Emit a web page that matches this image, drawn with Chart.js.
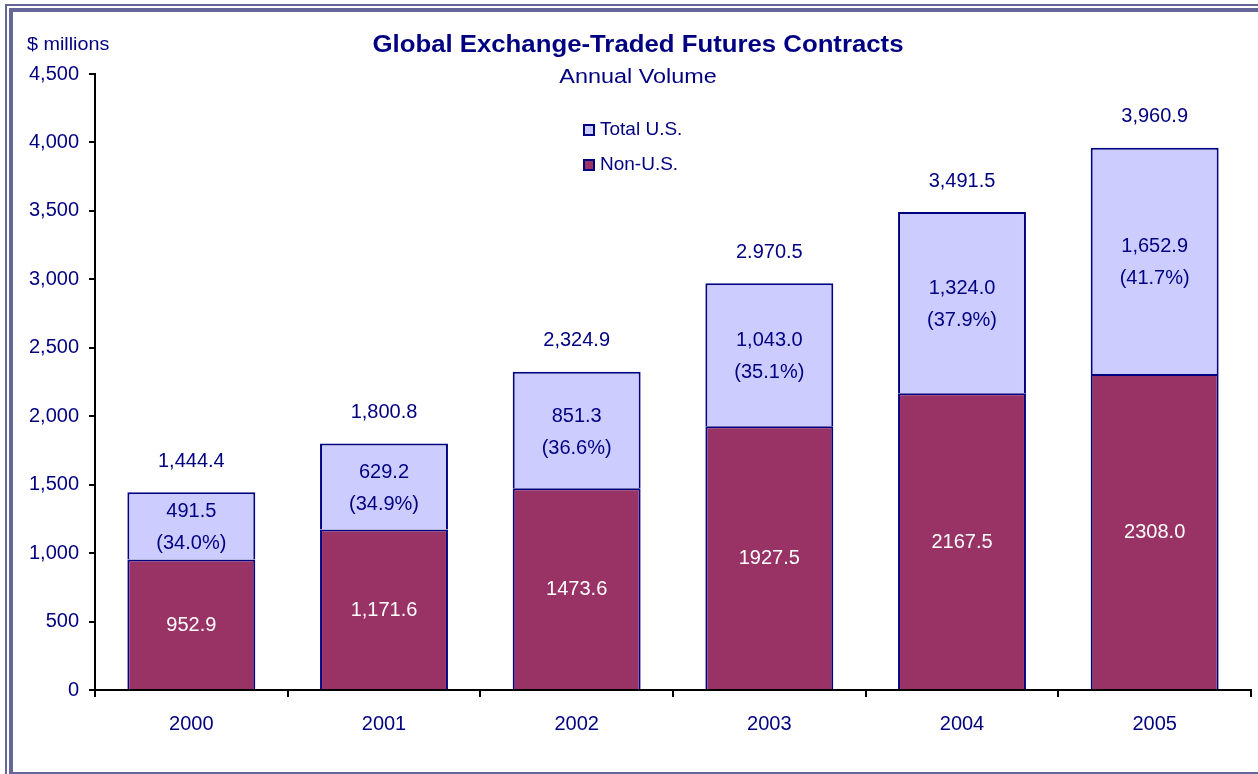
<!DOCTYPE html>
<html>
<head>
<meta charset="utf-8">
<script src="https://cdn.jsdelivr.net/npm/chart.js"></script>
<style>
  html, body { margin: 0; padding: 0; background: #fff; }
  #wrap { width: 1258px; height: 774px; position: relative; }
</style>
</head>
<body>
<div id="wrap"><canvas id="futuresChart" width="1258" height="774"></canvas></div>
<script>
// Data
const years = ['2000', '2001', '2002', '2003', '2004', '2005'];
const nonUS = [952.9, 1171.6, 1473.6, 1927.5, 2167.5, 2308.0];
const totalUS = [491.5, 629.2, 851.3, 1043.0, 1324.0, 1652.9];
const nonUSLabels = ['952.9', '1,171.6', '1473.6', '1927.5', '2167.5', '2308.0'];
const usLabels = ['491.5', '629.2', '851.3', '1,043.0', '1,324.0', '1,652.9'];
const usShareLabels = ['(34.0%)', '(34.9%)', '(36.6%)', '(35.1%)', '(37.9%)', '(41.7%)'];
const totalLabels = ['1,444.4', '1,800.8', '2,324.9', '2.970.5', '3,491.5', '3,960.9'];
const yTicks = [0, 500, 1000, 1500, 2000, 2500, 3000, 3500, 4000, 4500];

const NAVY = '#000080';
const FONT = 'Arial, "Liberation Sans", sans-serif';

// draws text stretched horizontally around x
function wideText(ctx, text, x, y, stretch) {
  ctx.save();
  ctx.translate(x, y);
  ctx.scale(stretch, 1);
  ctx.fillText(text, 0, 0);
  ctx.restore();
}

// frame, titles, legend and value labels
const decorations = {
  id: 'decorations',
  beforeDraw(chart) {
    const ctx = chart.ctx;
    ctx.save();
    ctx.fillStyle = '#fff';
    ctx.fillRect(0, 0, chart.width, chart.height);
    ctx.fillStyle = '#666699';
    // outer thin line, inner thick line
    ctx.fillRect(5, 4, chart.width, 2);
    ctx.fillRect(5, 4, 2, chart.height);
    ctx.fillRect(9, 8, chart.width, 4);
    ctx.fillRect(9, 8, 4, chart.height);
    ctx.fillRect(9, chart.height - 2, chart.width, 2);
    ctx.restore();
  },
  afterDraw(chart) {
    const ctx = chart.ctx;
    ctx.save();
    ctx.fillStyle = NAVY;
    ctx.textBaseline = 'middle';

    ctx.textAlign = 'center';
    ctx.font = 'bold 23px ' + FONT;
    wideText(ctx, 'Global Exchange-Traded Futures Contracts', 638, 46, 1.12);
    ctx.font = '20px ' + FONT;
    wideText(ctx, 'Annual Volume', 638, 77, 1.17);

    ctx.textAlign = 'left';
    ctx.font = '19px ' + FONT;
    wideText(ctx, '$ millions', 27, 45, 1.04);

    // legend
    const legendItems = [
      { text: 'Total U.S.', color: '#CCCCFF' },
      { text: 'Non-U.S.', color: '#993366' }
    ];
    ctx.font = '19px ' + FONT;
    legendItems.forEach((item, i) => {
      const y = 130 + i * 35;
      ctx.fillStyle = item.color;
      ctx.fillRect(584, y - 5, 10, 10);
      ctx.strokeStyle = NAVY;
      ctx.lineWidth = 2;
      ctx.strokeRect(584, y - 5, 10, 10);
      ctx.fillStyle = NAVY;
      ctx.fillText(item.text, 600, y);
    });

    // value labels
    const metaNon = chart.getDatasetMeta(0);
    const metaUS = chart.getDatasetMeta(1);
    ctx.textAlign = 'center';
    ctx.font = '20px ' + FONT;
    years.forEach((yr, i) => {
      const b0 = metaNon.data[i];
      const b1 = metaUS.data[i];
      ctx.fillStyle = '#fff';
      ctx.fillText(nonUSLabels[i], b0.x, (b0.y + b0.base) / 2 + 1);
      ctx.fillStyle = NAVY;
      const mid = (b1.y + b1.base) / 2 + 2;
      ctx.fillText(usLabels[i], b1.x, mid - 16);
      ctx.fillText(usShareLabels[i], b1.x, mid + 16);
      ctx.fillText(totalLabels[i], b1.x, b1.y - 31);
    });
    ctx.restore();
  }
};

const ctx = document.getElementById('futuresChart').getContext('2d');
new Chart(ctx, {
  type: 'bar',
  data: {
    labels: years,
    datasets: [
      {
        label: 'Non-U.S.',
        data: nonUS,
        backgroundColor: '#993366',
        borderColor: NAVY,
        borderWidth: 2,
        borderSkipped: 'start'
      },
      {
        label: 'Total U.S.',
        data: totalUS,
        backgroundColor: '#CCCCFF',
        borderColor: NAVY,
        borderWidth: 2,
        borderSkipped: 'start'
      }
    ]
  },
  options: {
    responsive: false,
    animation: false,
    layout: { padding: { top: 74, left: 0, right: 7, bottom: 0 } },
    plugins: {
      legend: { display: false },
      title: { display: false },
      tooltip: { enabled: false }
    },
    datasets: {
      bar: { categoryPercentage: 1, barPercentage: 0.664 }
    },
    scales: {
      x: {
        stacked: true,
        grid: { offset: true, drawOnChartArea: false, color: '#000', lineWidth: 2, tickLength: 7 },
        border: { display: true, color: '#000', width: 2 },
        ticks: { color: NAVY, font: { family: FONT, size: 20 }, padding: 15 },
        afterFit(scale) { scale.height = 84; }
      },
      y: {
        stacked: true,
        min: 0,
        max: 4500,
        afterBuildTicks(scale) { scale.ticks = yTicks.map(v => ({ value: v })); },
        grid: { drawOnChartArea: false, color: '#000', lineWidth: 2, tickLength: 6 },
        border: { display: true, color: '#000', width: 2 },
        ticks: {
          color: NAVY,
          font: { family: FONT, size: 20 },
          padding: 10,
          callback: v => v.toLocaleString('en-US')
        },
        afterFit(scale) { scale.width = 95; }
      }
    }
  },
  plugins: [decorations]
});
</script>
</body>
</html>
